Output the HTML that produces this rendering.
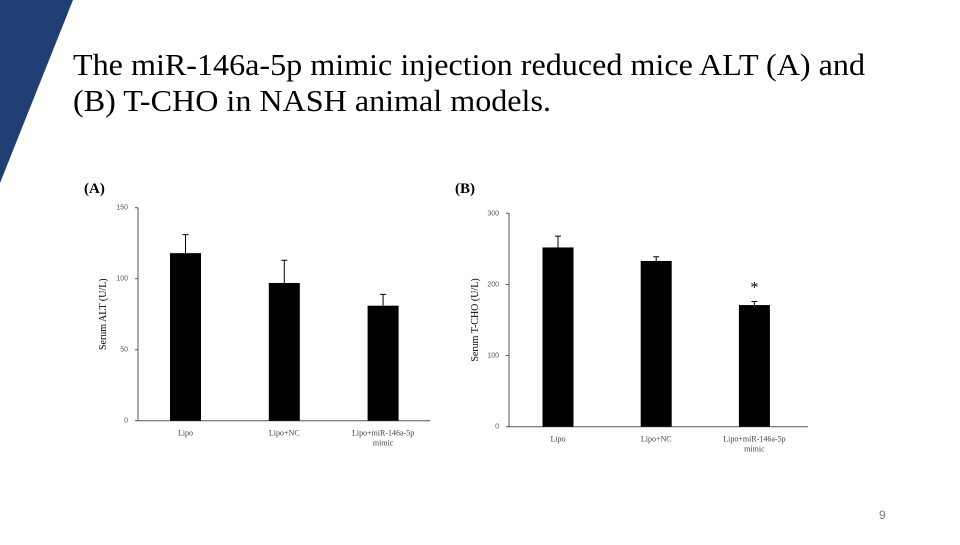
<!DOCTYPE html>
<html><head><meta charset="utf-8"><style>
body{margin:0;width:960px;height:540px;overflow:hidden;background:#fff;font-family:"Liberation Serif",serif}
</style></head><body>
<svg width="960" height="540" xmlns="http://www.w3.org/2000/svg">
<polygon points="0,0 73,0 0,183" fill="#1f3e73"/>
<text x="73" y="75" font-size="31" textLength="792" lengthAdjust="spacingAndGlyphs" font-family="Liberation Serif">The miR-146a-5p mimic injection reduced mice ALT (A) and</text>
<text x="73" y="111" font-size="31" textLength="478" lengthAdjust="spacingAndGlyphs" font-family="Liberation Serif">(B) T-CHO in NASH animal models.</text>
<text x="879" y="519" font-size="12" fill="#777" font-family="Liberation Sans">9</text>
<g id="chartA"></g><g id="chartB"></g>
</svg>
<script>
const categories=["Lipo","Lipo+NC","Lipo+miR-146a-5p|mimic"];
const altValues=[118,97,81];
const altErrors=[13,16,8];
const altTicks=[0,50,100,150];
const choValues=[252,233,171];
const choErrors=[16,6,5];
const choTicks=[0,100,200,300];
const choSig=[false,false,true];
const NS="http://www.w3.org/2000/svg";
function mk(p,t,a){const e=document.createElementNS(NS,t);for(const k in a)e.setAttribute(k,a[k]);p.appendChild(e);return e;}
function draw(g,cfg){
 const y=v=>cfg.y0-(v/cfg.max)*(cfg.y0-cfg.yTop);
 const x=i=>cfg.xStart+i*cfg.step;
 let e=mk(g,'text',{x:cfg.px,y:cfg.py,'font-size':15,'font-weight':'bold'});e.textContent=cfg.panel;
 
 
 e=mk(g,'line',{x1:cfg.ax,y1:cfg.yTop,x2:cfg.ax,y2:cfg.y0,stroke:'#555','stroke-width':1});
 
 
 e=mk(g,'line',{x1:cfg.ax,y1:cfg.y0,x2:cfg.xEnd,y2:cfg.y0,stroke:'#555','stroke-width':1});
 
 
 cfg.ticks.forEach(t=>{
  const te=mk(g,'text',{x:cfg.ax-10,y:y(t)+2,'font-size':7,'text-anchor':'end',fill:'#555','font-family':'Liberation Sans'});te.textContent=t;
  
  
  const tl=mk(g,'line',{x1:cfg.ax-3,y1:y(t),x2:cfg.ax,y2:y(t),stroke:'#555'});
  
  
 });
 e=mk(g,'text',{transform:`translate(${cfg.tx},${(cfg.yTop+cfg.y0)/2}) rotate(-90)`,'font-size':10,'text-anchor':'middle'});e.textContent=cfg.title;
 
 
 cfg.vals.forEach((v,i)=>{
  const cx=x(i);
  const b=mk(g,'rect',{x:cx-cfg.bw/2,y:y(v),width:cfg.bw,height:cfg.y0-y(v),fill:'#000'});
  
  
  const el=mk(g,'path',{d:`M${cx},${y(v)}V${y(v+cfg.err[i])}M${cx-3},${y(v+cfg.err[i])}H${cx+3}`,stroke:'#000','stroke-width':1,fill:'none'});
  
  
  if(cfg.sig&&cfg.sig[i]){const s=mk(g,'text',{x:cx,y:y(v+cfg.err[i])-9,'font-size':16,'text-anchor':'middle'});s.textContent='*';
   
   }
  categories[i].split('|').forEach((ln,j)=>{
   const t=mk(g,'text',{x:cx,y:cfg.y0+15+j*10,'font-size':8,'text-anchor':'middle',fill:'#444'});t.textContent=ln;
   
   
  });
 });
}
draw(document.getElementById('chartA'),{panel:'(A)',px:84,py:193,ax:138,yTop:207.7,y0:420.7,xEnd:430,max:150,xStart:185.5,step:98.8,bw:31,vals:altValues,err:altErrors,ticks:altTicks,title:'Serum ALT (U/L)',tx:106});
draw(document.getElementById('chartB'),{panel:'(B)',px:455,py:193,ax:509,yTop:213.3,y0:426.7,xEnd:808,max:300,xStart:558,step:98.2,bw:31,vals:choValues,err:choErrors,ticks:choTicks,title:'Serum T-CHO (U/L)',tx:478,sig:choSig});
</script>
</body></html>
